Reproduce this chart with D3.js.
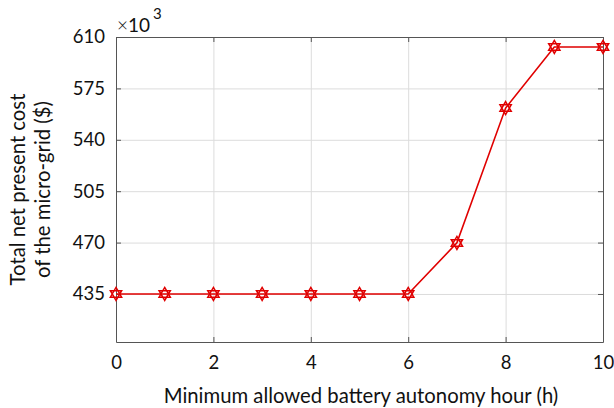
<!DOCTYPE html>
<html>
<head>
<meta charset="utf-8">
<script src="https://cdn.jsdelivr.net/npm/d3@7"></script>
<style>
  body { margin: 0; background: #fff; }
  svg { display: block; font-family: Lato, "Open Sans", sans-serif; }
  .axis path, .axis line { stroke: #555; }
  .axis text { fill: #111; font-size: 18.5px; font-family: Lato, sans-serif; }
  .grid line { stroke: #dcdcdc; }
  .grid path { display: none; }
</style>
</head>
<body>
<div id="chart"></div>
<script>
// hours of minimum battery autonomy
const hours = [0, 1, 2, 3, 4, 5, 6, 7, 8, 9, 10];
// total NPC, in thousands of $
const npc = [435, 435, 435, 435, 435, 435, 435, 469.8, 561.6, 603.2, 603.2];
const xTicks = [0, 2, 4, 6, 8, 10];
const yTicks = [435, 470, 505, 540, 575, 610];

const W = 614, H = 408;
const margin = { top: 37, right: 11, bottom: 66, left: 116 };
const width = W - margin.left - margin.right;
const height = H - margin.top - margin.bottom;

const svg = d3.select("#chart").append("svg")
  .attr("width", W).attr("height", H);
const g = svg.append("g")
  .attr("transform", `translate(${margin.left},${margin.top})`);

const x = d3.scaleLinear().domain([0, 10]).range([0, width]);
const y = d3.scaleLinear().domain([402.3, 610]).range([height, 0]);

// grid
g.append("g").attr("class", "grid")
  .call(d3.axisBottom(x).tickValues(xTicks).tickSize(height).tickFormat(""));
g.append("g").attr("class", "grid")
  .call(d3.axisLeft(y).tickValues(yTicks).tickSize(-width).tickFormat(""));

// axes (ticks pointing inward, box all round)
g.append("g").attr("class", "axis")
  .attr("transform", `translate(0,${height})`)
  .call(d3.axisBottom(x).tickValues(xTicks).tickSizeInner(-5).tickSizeOuter(0).tickPadding(14));
g.append("g").attr("class", "axis")
  .call(d3.axisTop(x).tickValues(xTicks).tickSizeInner(-5).tickSizeOuter(0).tickFormat(""));
g.append("g").attr("class", "axis")
  .call(d3.axisLeft(y).tickValues(yTicks).tickSizeInner(-5).tickSizeOuter(0).tickPadding(11));
g.append("g").attr("class", "axis")
  .attr("transform", `translate(${width},0)`)
  .call(d3.axisRight(y).tickValues(yTicks).tickSizeInner(-5).tickSizeOuter(0).tickFormat(""));

// exponent label
const ex = g.append("text").attr("x", 1).attr("y", -5)
  .attr("font-size", 19).attr("fill", "#111");
ex.append("tspan").attr("font-weight", 300).text("\u00d7");
ex.append("tspan").text("10");
ex.append("tspan").attr("dy", -13).attr("dx", 3).attr("font-size", 15).text("3");

// data line
const pts = hours.map((h, i) => ({ h, v: npc[i] }));
g.append("path").datum(pts)
  .attr("fill", "none").attr("stroke", "#e00000").attr("stroke-width", 1.6)
  .attr("d", d3.line().x(d => x(d.h)).y(d => y(d.v)));

// hexagram markers
function hexagram(r) {
  const tri = a => d3.range(3).map(k => {
    const t = a + k * 2 * Math.PI / 3;
    return [r * Math.sin(t), -r * Math.cos(t)];
  });
  const p = t => "M" + t.map(q => q.join(",")).join("L") + "Z";
  return p(tri(0)) + p(tri(Math.PI));
}
g.selectAll(".mk").data(pts).enter().append("path")
  .attr("class", "mk")
  .attr("transform", d => `translate(${x(d.h)},${y(d.v)})`)
  .attr("d", hexagram(6.5))
  .attr("fill", "none").attr("stroke", "#e00000").attr("stroke-width", 1.5);

// axis labels
svg.append("text")
  .attr("x", 361).attr("y", 403)
  .attr("text-anchor", "middle").attr("font-size", 20.3).attr("fill", "#111")
  .text("Minimum allowed battery autonomy hour (h)");

const yl = svg.append("text")
  .attr("transform", `translate(0,${margin.top + height / 2}) rotate(-90)`)
  .attr("text-anchor", "middle").attr("font-size", 20.3).attr("fill", "#111");
yl.append("tspan").attr("x", 0).attr("y", 25).text("Total net present cost");
yl.append("tspan").attr("x", 0).attr("y", 50).text("of the micro-grid ($)");
</script>
</body>
</html>
